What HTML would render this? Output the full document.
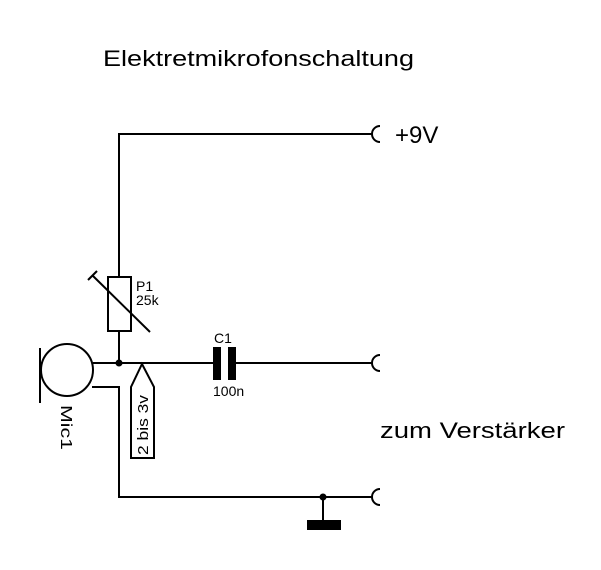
<!DOCTYPE html>
<html><head><meta charset="utf-8"><style>html,body{margin:0;padding:0;background:#fff}svg{display:block}</style></head>
<body>
<svg width="601" height="570" viewBox="0 0 601 570" xmlns="http://www.w3.org/2000/svg" font-family="Liberation Sans, Arial, sans-serif">
<rect width="601" height="570" fill="#fff"/>
<text x="103" y="66" font-size="22" textLength="311" lengthAdjust="spacingAndGlyphs">Elektretmikrofonschaltung</text>
<g stroke="#000" stroke-width="2" fill="none">
<polyline points="119,277 119,134 372,134"/>
<path d="M380,126 A8,8 0 0 0 380,142"/>
<rect x="108" y="277" width="23" height="54"/>
<line x1="92" y1="275" x2="150" y2="332"/>
<line x1="88" y1="280" x2="97" y2="271"/>
<line x1="119" y1="331" x2="119" y2="363"/>
<circle cx="67" cy="370" r="26"/>
<line x1="40" y1="348" x2="40" y2="403"/>
<line x1="93" y1="363" x2="214" y2="363"/>
<line x1="236" y1="363" x2="372" y2="363"/>
<path d="M380,355 A8,8 0 0 0 380,371"/>
<polyline points="92,387 119,387 119,497 372,497"/>
<path d="M380,489 A8,8 0 0 0 380,505"/>
<line x1="323" y1="497" x2="323" y2="520"/>
<polygon points="142,364 154,387 154,458 131,458 131,387"/>
</g>
<circle cx="119" cy="363" r="3.5" fill="#000"/>
<circle cx="323" cy="497" r="3.5" fill="#000"/>
<rect x="213" y="347" width="8" height="33" fill="#000"/>
<rect x="228" y="347" width="8" height="33" fill="#000"/>
<rect x="307" y="520" width="34" height="10" fill="#000"/>
<g font-size="14" fill="#000">
<text x="136" y="291">P1</text>
<text x="136" y="305">25k</text>
<text x="214" y="343">C1</text>
<text x="213" y="396">100n</text>
<text transform="translate(61,405) rotate(90)" font-size="16" textLength="45" lengthAdjust="spacingAndGlyphs">Mic1</text>
<text transform="translate(148,455) rotate(-90)" font-size="15" textLength="60" lengthAdjust="spacingAndGlyphs">2 bis 3v</text>
</g>
<text x="395" y="143" font-size="24">+9V</text>
<text x="380" y="438" font-size="22" textLength="185" lengthAdjust="spacingAndGlyphs">zum Verstärker</text>
</svg>
</body></html>
